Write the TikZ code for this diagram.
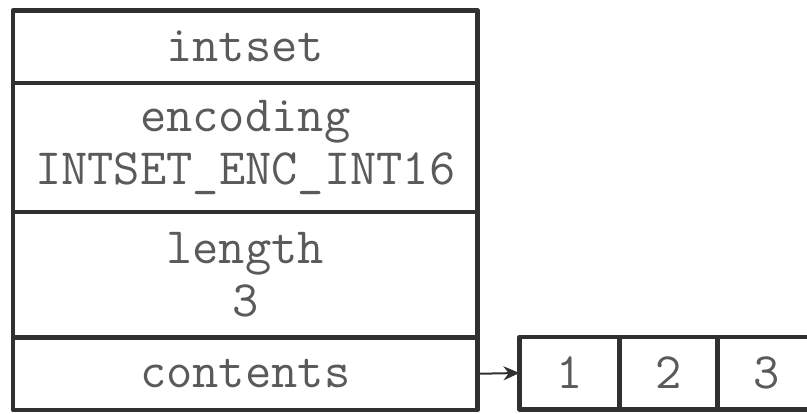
\documentclass[tikz,border=0pt]{standalone}
\usepackage{tikz}
\usetikzlibrary{arrows.meta}

\definecolor{boxline}{HTML}{303030}
\definecolor{boxtext}{HTML}{5A5A5A}

\begin{document}
\begin{tikzpicture}[
    x=1pt,
    y=-1pt,
    line cap=round,
    line join=round,
    field/.style={
        draw=boxline,
        line width=4.5pt,
        outer sep=0pt,
        inner sep=0pt,
        minimum width=464.5pt,
        align=center,
        text=boxtext,
        font=\ttfamily\fontsize{51}{53}\selectfont
    },
    cell/.style={
        field,
        minimum height=72.5pt
    }
]

\useasboundingbox (0,0) rectangle (807,413);

%------------------------------------------------
% intset structure
%------------------------------------------------
\node[field, minimum height=72.5pt] (intset) at (245.25,46.75) {intset};

\node[field, minimum height=129pt] (encoding) at (245.25,147.5)
    {encoding\\INTSET\_ENC\_INT16};

\node[field, minimum height=125.5pt] (length) at (245.25,274.75)
    {length\\3};

\node[field, minimum height=72.5pt] (contents) at (245.25,373.75) {contents};

%------------------------------------------------
% contents array
%------------------------------------------------
\node[cell, minimum width=100pt] (item1) at (569.5,373) {1};
\node[cell, minimum width=98pt] (item2) at (668.5,373) {2};
\node[cell, minimum width=98pt] (item3) at (766.5,373) {3};

%------------------------------------------------
% pointer
%------------------------------------------------
\draw[-{Stealth[length=16pt,width=14pt]}, line width=2pt, boxline]
    (contents.east) -- (item1.west);

\end{tikzpicture}
\end{document}
